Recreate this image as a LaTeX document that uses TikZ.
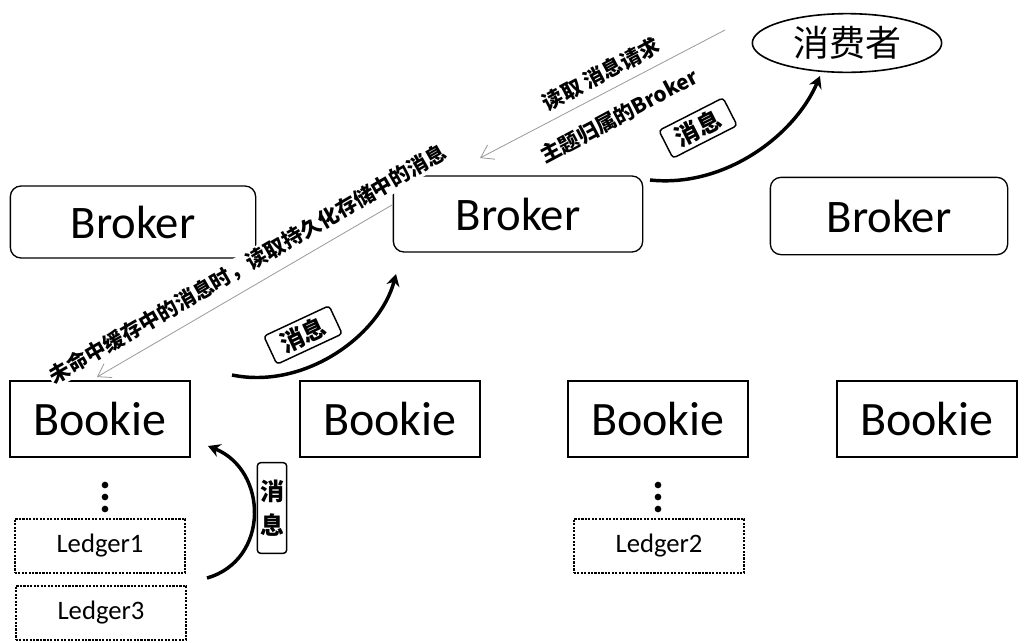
\documentclass[tikz,border=0pt]{standalone}
\usepackage{fontspec}
\setmainfont{Carlito}
\newfontfamily\cjk{Noto Sans CJK SC}
\usetikzlibrary{shapes.geometric,arrows.meta}

\tikzset{
	brokerbox/.style={draw, rounded corners=8pt, line width=1pt, inner sep=0pt, minimum width=184pt, minimum height=54pt, font=\fontsize{35}{38}\selectfont},
	bookiebox/.style={draw, line width=1.2pt, inner sep=0pt, minimum width=135pt, minimum height=57pt, font=\fontsize{36}{40}\selectfont},
	ledgerbox/.style={draw, densely dotted, line width=1.6pt, inner sep=0pt, minimum width=128pt, minimum height=40pt, font=\fontsize{20}{24}\selectfont},
	msgtag/.style={draw, rounded corners=2.5pt, line width=1.1pt, fill=white, inner xsep=9pt, inner ysep=3pt, font=\cjk\bfseries\fontsize{18}{20}\selectfont},
	slanttext/.style={inner sep=1pt, font=\cjk\bfseries\fontsize{15.5}{18}\selectfont},
	thinarrow/.style={draw=gray!80, line width=0.6pt, -{Straight Barb[length=9pt,width=12pt]}},
	thickarrow/.style={line width=2.6pt, -{Stealth[length=9pt,width=10pt]}},
	dot/.style={circle, fill=black, inner sep=0pt, minimum size=5pt}
}
\tikzset{every picture/.style={line width=0.75pt}}

\begin{document}
\begin{tikzpicture}[x=0.75pt,y=0.75pt,yscale=-1,xscale=1]
	\useasboundingbox (0,0) rectangle (1026,643);

	% Consumer
	\node [draw, ellipse, line width=1.2pt, inner sep=0pt, minimum width=142pt, minimum height=44pt, font=\cjk\fontsize{27}{30}\selectfont] (consumer) at (847,43) {消费者};

	% Brokers
	\node [brokerbox] (brokerA) at (133,222) {Broker};
	\node [brokerbox, minimum width=187pt, minimum height=57pt] (brokerB) at (518,214) {Broker};
	\node [brokerbox, minimum width=178pt, minimum height=58pt] (brokerC) at (889,216) {Broker};

	% Bookies
	\node [bookiebox] (bookieA) at (100,419) {Bookie};
	\node [bookiebox] (bookieB) at (390,419) {Bookie};
	\node [bookiebox] (bookieC) at (658,419) {Bookie};
	\node [bookiebox] (bookieD) at (927,419) {Bookie};

	% Ledgers
	\node [ledgerbox] (ledgerA) at (100,546) {Ledger1};
	\node [ledgerbox] (ledgerC) at (101,613) {Ledger3};
	\node [ledgerbox] (ledgerB) at (659,546) {Ledger2};

	% Dots
	\foreach \y [count=\i] in {485,497,509} {
		\node [dot] (dotA\i) at (105,\y) {};
		\node [dot] (dotB\i) at (658,\y) {};
	}

	% Request arrow
	\coordinate (reqS) at (725,30);
	\coordinate (reqE) at (480,158);
	\draw [thinarrow] (reqS) -- (reqE);
	\node [slanttext, rotate=28] (reqTop) at (601,74) {读取 消息请求};
	\node [slanttext, rotate=28] (reqBot) at (619,116) {主题归属的\textbf{Broker}};

	% Miss arrow
	\coordinate (missS) at (392,205);
	\coordinate (missE) at (97,377);
	\draw [thinarrow] (missS) -- (missE);
	\node [slanttext, fill=white, rotate=30] (missTxt) at (248,264) {未命中缓存中的消息时，读取持久化存储中的消息};

	% Message arrows
	\coordinate (msgAs) at (650,180);
	\coordinate (msgAe) at (820,76);
	\draw [thickarrow] (msgAs) .. controls (725,188) and (795,135) .. (msgAe);
	\node [msgtag, rotate=27] (tagA) at (698,128) {消息};

	\coordinate (msgBs) at (232,375);
	\coordinate (msgBe) at (396,274);
	\draw [thickarrow] (msgBs) .. controls (305,390) and (380,335) .. (msgBe);
	\node [msgtag, rotate=25] (tagB) at (303,335) {消息};

	\coordinate (msgCs) at (207,578);
	\coordinate (msgCe) at (208,446);
	\draw [thickarrow] (msgCs) .. controls (270,560) and (268,470) .. (msgCe);
	\node [msgtag, inner xsep=2pt, inner ysep=0pt, minimum height=68pt, align=center, font=\cjk\bfseries\fontsize{18}{26}\selectfont] (tagC) at (272,508) {消\\息};

\end{tikzpicture}
\end{document}
